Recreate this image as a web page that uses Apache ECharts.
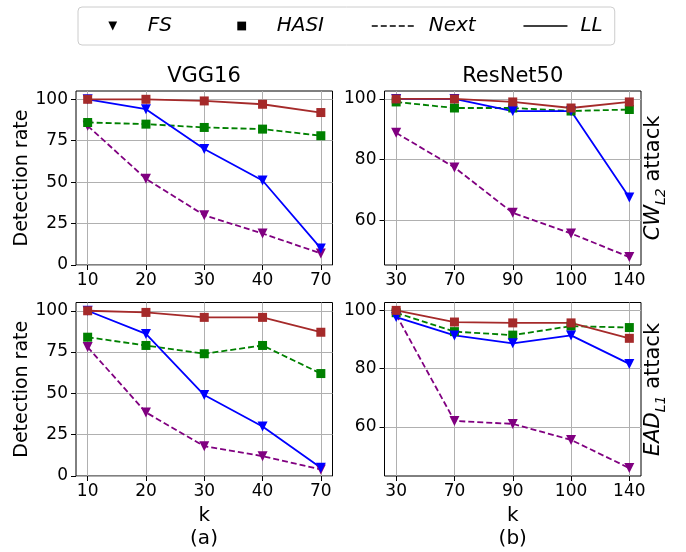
<!DOCTYPE html>
<html>
<head>
<meta charset="utf-8">
<script src="https://cdn.jsdelivr.net/npm/echarts@6/dist/echarts.min.js"></script>
<style>
  html, body { margin: 0; padding: 0; background: #fff; }
  #main { width: 686px; height: 552px; }
</style>
</head>
<body>
<div id="main"></div>
<script>
// k on the x axis
var kVgg = ['10', '20', '30', '40', '70'];
var kResnet = ['30', '70', '90', '100', '140'];

// CW_L2 attack
var vggCwFsNext = [84, 52, 30, 19, 7];
var vggCwFsLl = [100, 94, 70, 51, 10];
var vggCwHasiNext = [86, 85, 83, 82, 78];
var vggCwHasiLl = [100, 100, 99, 97, 92];

var resCwFsNext = [88.8, 77.4, 62.4, 55.6, 47.8];
var resCwFsLl = [100, 100, 96, 96, 67.5];
var resCwHasiNext = [99, 97, 97, 96, 96.5];
var resCwHasiLl = [100, 100, 99, 97, 99];

// EAD_L1 attack
var vggEadFsNext = [78, 38.5, 18, 12, 4];
var vggEadFsLl = [100, 86, 49, 30, 5];
var vggEadHasiNext = [84, 79, 74, 79, 62];
var vggEadHasiLl = [100, 99, 96, 96, 87];

var resEadFsNext = [98.5, 62, 61, 55.5, 45.8];
var resEadFsLl = [97.7, 91.4, 88.7, 91.4, 81.6];
var resEadHasiNext = [99.2, 92.7, 91.5, 94.6, 94.1];
var resEadHasiLl = [100, 96, 95.7, 95.7, 90.4];

// y tick labels
var yTicksVgg = [0, 25, 50, 75, 100];
var yTicksRes = [60, 80, 100];

var FONT = 'DejaVu Sans';
var DASH = [6, 3];

var chart = echarts.init(document.getElementById('main'));

var grids = [], xAxes = [], yAxes = [], series = [];

// one subplot: a frame grid (box, y ticks, horizontal grid) and a data grid inset like matplotlib margins
function addPanel(frame, cats, yMin, yMax, yTicks, lines, showYName, showXName) {
  var p = grids.length / 2;
  var inset = frame.width / 22;
  grids.push({
    left: frame.left + inset, top: frame.top,
    width: frame.width - 2 * inset, height: frame.height,
    outerBoundsMode: 'none'
  });
  grids.push({
    left: frame.left, top: frame.top, width: frame.width, height: frame.height,
    show: true, borderColor: '#000', borderWidth: 1, backgroundColor: 'transparent',
    outerBoundsMode: 'none'
  });
  xAxes.push({
    type: 'category', gridIndex: 2 * p, data: cats, boundaryGap: false,
    axisLine: { show: false },
    axisTick: { show: true, length: 5, interval: 0, lineStyle: { color: '#000' } },
    axisLabel: { interval: 0, fontSize: 17, color: '#000', margin: 7, fontFamily: FONT },
    splitLine: { show: true, interval: 0, lineStyle: { color: '#b0b0b0', width: 1 } },
    name: showXName ? 'k' : '', nameLocation: 'middle', nameGap: 30,
    nameTextStyle: { fontSize: 20, color: '#000', fontFamily: FONT }
  });
  xAxes.push({ type: 'value', gridIndex: 2 * p + 1, show: false, min: 0, max: 1 });
  yAxes.push({ type: 'value', gridIndex: 2 * p, show: false, min: yMin, max: yMax });
  yAxes.push({
    type: 'value', gridIndex: 2 * p + 1, min: yMin, max: yMax,
    axisLine: { show: false },
    axisTick: { show: true, length: 5, lineStyle: { color: '#000' }, customValues: yTicks },
    axisLabel: { fontSize: 17, color: '#000', margin: 8, fontFamily: FONT, customValues: yTicks },
    splitLine: { show: true, lineStyle: { color: '#b0b0b0', width: 1 } },
    name: showYName ? 'Detection rate' : '', nameLocation: 'middle', nameGap: 44,
    nameTextStyle: { fontSize: 19, color: '#000', fontFamily: FONT }
  });
  // drawing order: FS Next, HASI Next, FS LL, HASI LL
  var styles = [
    { color: '#800080', tri: true, dash: true },
    { color: '#008000', tri: false, dash: true },
    { color: '#0000ff', tri: true, dash: false },
    { color: '#a52a2a', tri: false, dash: false }
  ];
  lines.forEach(function (vals, i) {
    var s = styles[i];
    series.push({
      type: 'line', name: 'p' + p + '_' + i,
      xAxisIndex: 2 * p, yAxisIndex: 2 * p, data: vals,
      symbol: s.tri ? 'triangle' : 'rect',
      symbolRotate: s.tri ? 180 : 0,
      symbolSize: s.tri ? 10 : 9,
      showAllSymbol: true,
      itemStyle: { color: s.color },
      lineStyle: { color: s.color, width: 1.8, type: s.dash ? DASH : 'solid' },
      silent: true, animation: false
    });
  });
}

addPanel({ left: 76, top: 91, width: 256.5, height: 174 }, kVgg, 0, 105, yTicksVgg,
  [vggCwFsNext, vggCwHasiNext, vggCwFsLl, vggCwHasiLl], true, false);
addPanel({ left: 384.5, top: 91, width: 256.5, height: 174 }, kResnet, 45.19, 102.61, yTicksRes,
  [resCwFsNext, resCwHasiNext, resCwFsLl, resCwHasiLl], false, false);
addPanel({ left: 76, top: 302.5, width: 256.5, height: 173.5 }, kVgg, 0, 105, yTicksVgg,
  [vggEadFsNext, vggEadHasiNext, vggEadFsLl, vggEadHasiLl], true, true);
addPanel({ left: 384.5, top: 302.5, width: 256.5, height: 173.5 }, kResnet, 43.09, 102.71, yTicksRes,
  [resEadFsNext, resEadHasiNext, resEadFsLl, resEadHasiLl], false, true);

// empty series only used for the legend entries
series.push(
  { type: 'line', name: 'FS', data: [], symbol: 'triangle', symbolRotate: 180, symbolSize: 9,
    itemStyle: { color: '#000' }, lineStyle: { color: '#000', opacity: 0 } },
  { type: 'line', name: 'HASI', data: [], symbol: 'rect', symbolSize: 9,
    itemStyle: { color: '#000' }, lineStyle: { color: '#000', opacity: 0 } },
  { type: 'line', name: 'Next', data: [], symbol: 'none',
    itemStyle: { color: '#000', opacity: 0 }, lineStyle: { color: '#000', type: DASH } },
  { type: 'line', name: 'LL', data: [], symbol: 'none',
    itemStyle: { color: '#000', opacity: 0 }, lineStyle: { color: '#000' } }
);

var sideLabelRich = {
  i: { fontSize: 21, fontStyle: 'italic', fontFamily: FONT, fill: '#000' },
  s: { fontSize: 14, fontStyle: 'italic', fontFamily: FONT, fill: '#000', padding: [14, 0, 0, 0] },
  n: { fontSize: 21, fontFamily: FONT, fill: '#000' }
};

var option = {
  animation: false,
  legend: {
    data: ['FS', 'HASI', 'Next', 'LL'],
    left: 78, top: 7,
    padding: [9, 12],
    itemWidth: 44, itemHeight: 11, itemGap: 47,
    selectedMode: false,
    borderColor: '#cccccc', borderWidth: 1, borderRadius: 4,
    lineStyle: { width: 1.5 },
    textStyle: { fontSize: 20, fontStyle: 'italic', fontFamily: FONT, color: '#000', padding: [0, 0, 0, 8] }
  },
  grid: grids,
  xAxis: xAxes,
  yAxis: yAxes,
  series: series,
  graphic: {
    elements: [
      { type: 'text', x: 204, y: 77, style: { text: 'VGG16', fontSize: 21, fontFamily: FONT, fill: '#000', align: 'center', verticalAlign: 'middle' } },
      { type: 'text', x: 512.75, y: 77, style: { text: 'ResNet50', fontSize: 21, fontFamily: FONT, fill: '#000', align: 'center', verticalAlign: 'middle' } },
      { type: 'text', x: 204, y: 539, style: { text: '(a)', fontSize: 20, fontFamily: FONT, fill: '#000', align: 'center', verticalAlign: 'middle' } },
      { type: 'text', x: 512.75, y: 539, style: { text: '(b)', fontSize: 20, fontFamily: FONT, fill: '#000', align: 'center', verticalAlign: 'middle' } },
      { type: 'text', x: 654, y: 178, rotation: Math.PI / 2,
        style: { text: '{i|CW}{s|L2}{n| attack}', rich: sideLabelRich, align: 'center', verticalAlign: 'middle' } },
      { type: 'text', x: 654, y: 389.5, rotation: Math.PI / 2,
        style: { text: '{i|EAD}{s|L1}{n| attack}', rich: sideLabelRich, align: 'center', verticalAlign: 'middle' } }
    ]
  }
};

chart.setOption(option);
</script>
</body>
</html>
